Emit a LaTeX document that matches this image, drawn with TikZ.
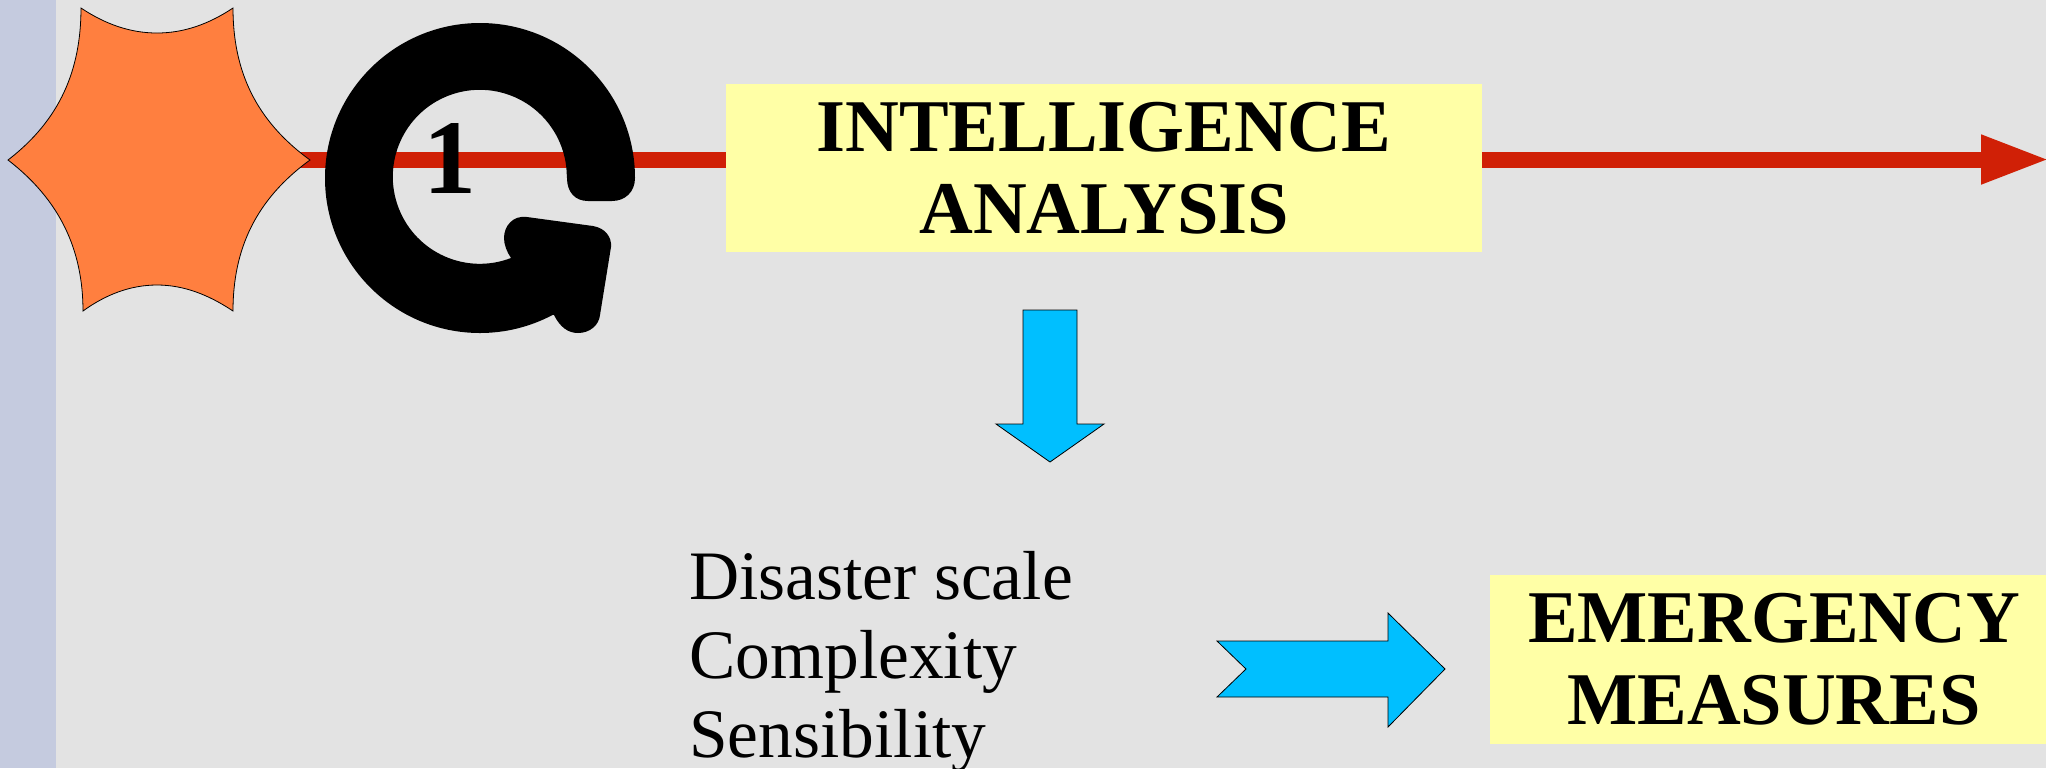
\documentclass[tikz,border=0pt]{standalone}
\usepackage{fontspec}
\setmainfont{Liberation Serif}
\usetikzlibrary{arrows.meta,positioning}

\begin{document}
\begin{tikzpicture}[x=0.5pt,y=-0.5pt,
	Edge/.style={-{Triangle[length=34.5pt,width=22.5pt]},line width=8pt,draw=RedLine},
	Box/.style={rectangle,fill=BoxYellow,inner sep=0pt,align=center,font=\fontsize{37.2}{41}\selectfont\bfseries},
	Burst/.style={fill=BurstOrange,draw=black,line width=0.4pt},
	Turn/.style={fill=black},
	Block/.style={fill=BlockBlue,draw=black,line width=0.4pt},
	Factor/.style={inner sep=0pt,align=left,font=\fontsize{34.7}{39.5}\selectfont},
]
	\definecolor{RedLine}{RGB}{208,32,6}
	\definecolor{BoxYellow}{RGB}{255,255,166}
	\definecolor{BurstOrange}{RGB}{255,127,63}
	\definecolor{BlockBlue}{RGB}{0,191,255}
	\definecolor{Ground}{RGB}{227,227,227}
	\definecolor{Band}{RGB}{197,203,223}

	\useasboundingbox (0,0) rectangle (2046,768);
	\fill[Ground] (0,0) rectangle (2046,768);
	\fill[Band] (0,0) rectangle (56,768);

	\coordinate (Start) at (300,159.5);
	\coordinate (End) at (2050,159.5);
	\draw[Edge] (Start) -- (End);

	\path[Burst] (81,8) .. controls (105,24) and (130,33) .. (157,33)
		.. controls (184,33) and (209,24) .. (233,8)
		.. controls (233,70) and (255,120) .. (310,160)
		.. controls (255,200) and (233,250) .. (233,311)
		.. controls (209,295) and (184,285) .. (157,285)
		.. controls (130,285) and (105,295) .. (83,311)
		.. controls (83,250) and (60,200) .. (8,160)
		.. controls (60,120) and (81,70) .. (81,8) -- cycle;

	\path[Turn] (635,178) arc[start angle=0,end angle=-298,radius=155] -- (554,315)
		.. controls (560,327) and (568,333) .. (578,333)
		.. controls (590,333) and (599,325) .. (600,315)
		-- (611,247) .. controls (612,237) and (605,228) .. (593,226)
		-- (527,217) .. controls (513,215) and (504,226) .. (504,238)
		.. controls (504,245) and (507,252) .. (511,258)
		arc[start angle=-291,end angle=0,radius=87]
		-- (567,178) .. controls (567,192) and (575,201) .. (588,201)
		-- (612,201) .. controls (625,201) and (635,192) .. (635,178) -- cycle;

	\node[font=\fontsize{53}{53}\selectfont\bfseries,inner sep=0pt,anchor=base] (One) at (450,193.5) {1};

	\node[Box,minimum width=378pt,minimum height=84pt] (Intel) at (1104,168) {INTELLIGENCE\\ANALYSIS};
	\node[Box,minimum width=284pt,minimum height=84.5pt] (Measures) at (1774,659.5) {EMERGENCY\\MEASURES};

	\path[Block] (1023,310) -- (1077,310) -- (1077,424) -- (1104,424) -- (1050,462) -- (996,424) -- (1023,424) -- cycle;
	\path[Block] (1217,641) -- (1388,641) -- (1388,613) -- (1445,669) -- (1388,727) -- (1388,697) -- (1217,697) -- (1246,669) -- cycle;

	\node[Factor,anchor=base west] (Factors) at (689,757) {Disaster scale\\Complexity\\Sensibility};
\end{tikzpicture}
\end{document}
